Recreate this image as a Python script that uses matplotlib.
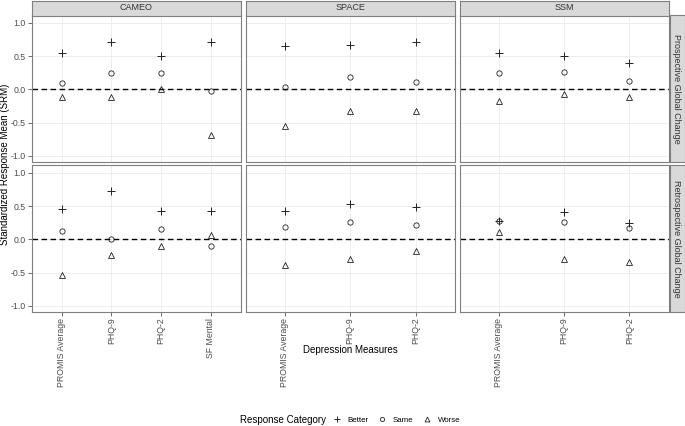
import matplotlib.pyplot as plt
from matplotlib.lines import Line2D

plt.rcParams['font.family'] = ['Liberation Sans', 'DejaVu Sans']

# Data
studies = ["CAMEO", "SPACE", "SSM"]
changes = ["Prospective Global Change", "Retrospective Global Change"]
measures = {
    "CAMEO": ["PROMIS Average", "PHQ-9", "PHQ-2", "SF Mental"],
    "SPACE": ["PROMIS Average", "PHQ-9", "PHQ-2"],
    "SSM": ["PROMIS Average", "PHQ-9", "PHQ-2"],
}

# Prospective global change SRM
pro_better = {"CAMEO": [0.54, 0.71, 0.50, 0.71], "SPACE": [0.65, 0.67, 0.71], "SSM": [0.54, 0.50, 0.39]}
pro_same = {"CAMEO": [0.10, 0.25, 0.25, -0.02], "SPACE": [0.03, 0.19, 0.11], "SSM": [0.25, 0.26, 0.12]}
pro_worse = {"CAMEO": [-0.11, -0.12, 0.00, -0.69], "SPACE": [-0.55, -0.32, -0.32], "SSM": [-0.18, -0.07, -0.12]}

# Retrospective global change SRM
ret_better = {"CAMEO": [0.45, 0.72, 0.42, 0.43], "SPACE": [0.43, 0.53, 0.48], "SSM": [0.28, 0.41, 0.25]}
ret_same = {"CAMEO": [0.12, 0.01, 0.16, -0.10], "SPACE": [0.19, 0.26, 0.22], "SSM": [0.27, 0.26, 0.17]}
ret_worse = {"CAMEO": [-0.53, -0.23, -0.10, 0.06], "SPACE": [-0.38, -0.30, -0.17], "SSM": [0.11, -0.30, -0.34]}

rows = [(pro_better, pro_same, pro_worse), (ret_better, ret_same, ret_worse)]

W, H = 685, 426
fig = plt.figure(figsize=(W / 100, H / 100), dpi=100)

col_x = [31.7, 245.7, 459.5]
pw = 209
row_y = [15.5, 165.5]
ph = 146
border = '#7F7F7F'
strip_fill = '#D9D9D9'
pt_col = '#222222'

yticks = [-1.0, -0.5, 0.0, 0.5, 1.0]

for r, (better, same, worse) in enumerate(rows):
    for c, study in enumerate(studies):
        ax = fig.add_axes([col_x[c] / W, 1 - (row_y[r] + ph) / H, pw / W, ph / H])
        labels = measures[study]
        xs = list(range(len(labels)))
        ax.set_xlim(-0.6, len(labels) - 1 + 0.6)
        ax.set_ylim(-1.085, 1.11)
        ax.set_xticks(xs)
        ax.set_yticks(yticks)
        ax.grid(True, color='#EBEBEB', linewidth=0.6)
        ax.set_axisbelow(True)
        for s in ax.spines.values():
            s.set_color(border)
            s.set_linewidth(0.8)
        ax.axhline(0, color='black', linestyle=(0, (4, 2.5)), linewidth=1.0, zorder=2)
        ax.plot(xs, better[study], linestyle='none', marker='+', ms=6, mew=0.7, color=pt_col, zorder=3)
        ax.plot(xs, same[study], linestyle='none', marker='o', ms=3.8, mew=0.6, mfc='none', color=pt_col, zorder=3)
        ax.plot(xs, worse[study], linestyle='none', marker='^', ms=4.5, mew=0.6, mfc='none', color=pt_col, zorder=3)
        ax.tick_params(length=3, width=0.5, color='#333333', labelsize=6.3, labelcolor='#4D4D4D', pad=1.5)
        if c == 0:
            ax.set_yticklabels(["-1.0", "-0.5", "0.0", "0.5", "1.0"])
        else:
            ax.tick_params(axis='y', length=0, labelleft=False)
        if r == 1:
            ax.set_xticklabels(labels, rotation=90, ha='center', va='top')
        else:
            ax.tick_params(axis='x', length=0, labelbottom=False)

        # top strips
        if r == 0:
            sax = fig.add_axes([col_x[c] / W, 1 - 15.5 / H, pw / W, 15 / H])
            sax.set_facecolor(strip_fill)
            sax.set_xticks([])
            sax.set_yticks([])
            for s in sax.spines.values():
                s.set_color(border)
                s.set_linewidth(0.8)
            sax.text(0.5, 0.5, study, ha='center', va='center', fontsize=6.5, color='#333333')

    # right strip
    rax = fig.add_axes([669.5 / W, 1 - (row_y[r] + ph) / H, 15 / W, ph / H])
    rax.set_facecolor(strip_fill)
    rax.set_xticks([])
    rax.set_yticks([])
    for s in rax.spines.values():
        s.set_color(border)
        s.set_linewidth(0.8)
    rax.text(0.5, 0.5, changes[r], ha='center', va='center', rotation=-90, fontsize=6.5, color='#333333')

fig.text(5 / W, 1 - 164 / H, "Standardized Response Mean (SRM)", rotation=90, ha='center', va='center', fontsize=7)
fig.text(350 / W, 1 - 350 / H, "Depression Measures", ha='center', va='center', fontsize=7)

# legend
fig.text(240 / W, 1 - 420 / H, "Response Category", ha='left', va='center', fontsize=7)
handles = [
    Line2D([], [], linestyle='none', marker='+', ms=4.5, mew=0.7, color=pt_col),
    Line2D([], [], linestyle='none', marker='o', ms=3, mew=0.6, mfc='none', color=pt_col),
    Line2D([], [], linestyle='none', marker='^', ms=3.5, mew=0.6, mfc='none', color=pt_col),
]
fig.legend(handles, ["Better", "Same", "Worse"], loc='center left', bbox_to_anchor=(332 / W, 1 - 420 / H),
           ncol=3, frameon=False, fontsize=5.7, handlelength=1.2, handletextpad=0.8, columnspacing=1.05,
           borderpad=0, borderaxespad=0)

fig.savefig("out.png", dpi=100)
